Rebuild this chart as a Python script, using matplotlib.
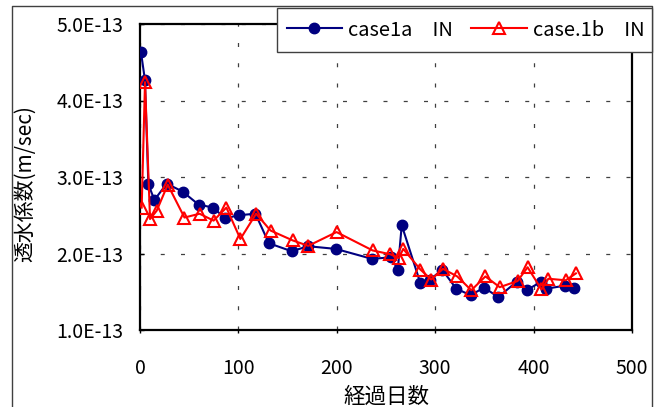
import matplotlib
matplotlib.use('Agg')
import matplotlib.pyplot as plt
from matplotlib.lines import Line2D
from matplotlib.patches import Rectangle

plt.rcParams['font.family'] = ['Noto Sans CJK JP', 'DejaVu Sans']

# 経過日数 と 透水係数 (x1e-13 m/sec)
days_a = [1, 5, 8.5, 14.6, 27.2, 43.2, 59.5, 74.2, 86.7, 100.3, 117.3, 131, 154, 171,
          199, 235.7, 255, 262, 266, 285, 295.2, 307, 321.4, 336, 349.7, 364, 382.7,
          392.9, 407.5, 413, 432, 441.5]
k_a = [4.63, 4.27, 2.905, 2.70, 2.913, 2.81, 2.64, 2.60, 2.46, 2.50, 2.52, 2.134, 2.03, 2.095,
       2.06, 1.93, 1.95, 1.79, 2.37, 1.61, 1.66, 1.79, 1.54, 1.455, 1.555, 1.43, 1.63,
       1.52, 1.63, 1.54, 1.58, 1.555]

days_b = [1.7, 5.1, 10.2, 17, 28.2, 45.2, 60.5, 74.8, 87.8, 102, 118, 132.7, 155.4, 171,
          199.7, 236.4, 254.4, 263, 267.5, 285, 296, 307.9, 322.4, 336.7, 351, 365.6,
          383.7, 393.9, 408, 415, 432.7, 443]
k_b = [2.60, 4.24, 2.45, 2.56, 2.90, 2.47, 2.52, 2.43, 2.60, 2.19, 2.52, 2.30, 2.17, 2.10,
       2.28, 2.04, 1.99, 1.94, 2.06, 1.79, 1.66, 1.80, 1.70, 1.52, 1.70, 1.56,
       1.64, 1.82, 1.53, 1.67, 1.65, 1.74]

yticks = [1, 2, 3, 4, 5]
ytick_labels = ['1.0E-13', '2.0E-13', '3.0E-13', '4.0E-13', '5.0E-13']
xticks = [0, 100, 200, 300, 400, 500]


def main():
    W, H = 661, 407
    fig = plt.figure(figsize=(W / 100, H / 100), dpi=100)
    ax = fig.add_axes([140 / W, 1 - 330 / H, (632 - 140) / W, (330 - 24) / H])

    ax.plot(days_a, k_a, color='#000080', lw=1.5, marker='o', ms=7.5,
            label='case1a\u3000IN', zorder=3)
    ax.plot(days_b, k_b, color='#ff0000', lw=1.5, marker='^', ms=9,
            markerfacecolor='none', markeredgewidth=1.5, label='case.1b\u3000IN', zorder=4)

    ax.set_xlim(0, 500)
    ax.set_ylim(1, 5)
    ax.set_xticks(xticks)
    ax.set_yticks(yticks)
    ax.set_yticklabels(ytick_labels)
    ax.tick_params(axis='x', labelsize=14, length=2, width=1, direction='out', pad=18)
    ax.tick_params(axis='y', labelsize=14, length=3, width=1, direction='in', pad=12)

    ax.grid(True, color='#404040', lw=0.9, linestyle=(0, (3.2, 13)))
    ax.set_axisbelow(True)
    for s in ax.spines.values():
        s.set_linewidth(1.6)
        s.set_color('black')

    ax.set_xlabel('経過日数', fontsize=15.5, labelpad=5)
    ax.set_ylabel('透水係数(m/sec)', fontsize=15)
    ax.yaxis.set_label_coords(-0.211, 0.48)

    # グラフエリアの枠
    fig.add_artist(Line2D([12 / W, 12 / W, 652 / W, 652 / W],
                          [-0.05, 1 - 6 / H, 1 - 6 / H, -0.05],
                          transform=fig.transFigure, color='#404040', lw=1))

    # 凡例
    fig.add_artist(Rectangle((277 / W, 1 - 52 / H), (652 - 277) / W, 44 / H,
                             transform=fig.transFigure, facecolor='white',
                             edgecolor='#404040', lw=1, zorder=5))
    leg = fig.legend(loc='center', bbox_to_anchor=((279 + 652) / 2 / W, 1 - 30 / H),
                     ncol=2, fontsize=14.5, frameon=False, borderaxespad=0,
                     handlelength=2.75, handletextpad=0.3, columnspacing=0.9,
                     borderpad=0.2)
    leg.set_zorder(6)

    fig.savefig('out.png', dpi=100)


if __name__ == '__main__':
    main()
